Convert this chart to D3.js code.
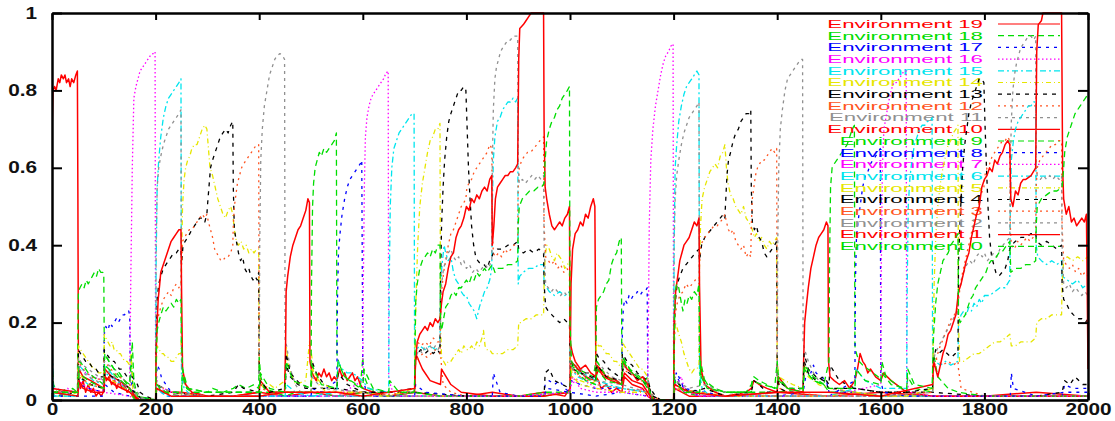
<!DOCTYPE html>
<html>
<head>
<meta charset="utf-8">
<script src="https://cdn.jsdelivr.net/npm/d3@7"></script>
<style>
body { margin: 0; background: #fff; }
svg { display: block; }
</style>
</head>
<body>
<div id="chart"></div>
<script>
// ---- data: [step, value] ----
const envNames = ["Environment 19","Environment 18","Environment 17","Environment 16","Environment 15",
  "Environment 14","Environment 13","Environment 12","Environment 11","Environment 10",
  "Environment 9","Environment 8","Environment 7","Environment 6","Environment 5",
  "Environment 4","Environment 3","Environment 2","Environment 1","Environment 0"];
const xTicks = [0,200,400,600,800,1000,1200,1400,1600,1800,2000];
const xTickLabels = ["0","200","400","600","800","1000","1200","1400","1600","1800","2000"];
const yTicks = [0,0.2,0.4,0.6,0.8,1];
const yTickLabels = ["0","0.2","0.4","0.6","0.8","1"];

const env19 = [[0,0.69],[2,0.8],[5,0.81],[8,0.8],[12,0.83],[15,0.82],[18,0.84],[22,0.83],[25,0.84],[28,0.82],[32,0.83],[35,0.81],[38,0.83],[42,0.82],[46,0.84],[49,0.85],[50,0.52],[51,0.06],[55,0.03],[60,0.05],[65,0.02],[70,0.04],[75,0.02],[80,0.03],[85,0.01],[90,0.02],[95,0.01],[99,0.02],[101,0.07],[105,0.05],[110,0.06],[115,0.04],[120,0.05],[125,0.03],[130,0.05],[135,0.03],[140,0.04],[145,0.02],[150,0.03],[155,0.02],[165,0],[200,0],[202,0.03],[215,0.02],[250,0.02],[300,0.01],[350,0.01],[400,0.02],[450,0.01],[500,0.02],[550,0.01],[600,0.02],[650,0.01],[700,0.02],[750,0.01],[800,0.01],[850,0.02],[900,0.01],[950,0.02],[990,0.01],[1000,0.03],[1002,0.3],[1005,0.39],[1010,0.43],[1015,0.44],[1020,0.46],[1025,0.45],[1030,0.48],[1035,0.47],[1040,0.5],[1045,0.52],[1048,0.5],[1050,0.06],[1055,0.05],[1060,0.03],[1070,0.04],[1080,0.02],[1090,0.03],[1100,0.02],[1105,0.06],[1120,0.04],[1140,0.03],[1150,0.01],[1160,0],[1200,0],[1202,0.03],[1230,0.01],[1300,0.01],[1400,0.02],[1500,0.01],[1600,0.02],[1700,0.01],[1800,0.01],[1900,0.02],[2000,0.01]];

const env18 = [[0,0.1],[3,0.04],[10,0.02],[20,0.03],[30,0.02],[40,0.03],[49,0.02],[50,0.2],[51,0.28],[54,0.29],[58,0.3],[62,0.29],[66,0.31],[70,0.3],[74,0.31],[78,0.32],[82,0.33],[86,0.32],[90,0.34],[94,0.33],[98,0.33],[100,0.32],[101,0.12],[105,0.11],[110,0.1],[115,0.09],[120,0.08],[125,0.07],[130,0.06],[135,0.06],[140,0.05],[145,0.04],[150,0.05],[153,0.1],[156,0.04],[162,0.01],[200,0],[202,0.05],[210,0.02],[250,0.01],[252,0.06],[260,0.03],[300,0.02],[350,0.02],[400,0.02],[450,0.02],[500,0.02],[550,0.01],[600,0.02],[650,0.01],[700,0.02],[750,0.01],[800,0.01],[850,0.01],[900,0.01],[950,0.01],[1000,0.02],[1002,0.1],[1015,0.08],[1030,0.07],[1045,0.06],[1050,0.1],[1051,0.24],[1055,0.26],[1060,0.27],[1065,0.28],[1070,0.3],[1075,0.31],[1080,0.35],[1085,0.37],[1090,0.38],[1095,0.41],[1099,0.42],[1100,0.12],[1105,0.1],[1115,0.08],[1125,0.07],[1135,0.06],[1145,0.05],[1150,0.06],[1153,0.02],[1160,0],[1200,0],[1202,0.06],[1220,0.02],[1250,0.01],[1252,0.07],[1270,0.03],[1300,0.02],[1400,0.02],[1450,0.03],[1452,0.08],[1470,0.05],[1490,0.04],[1500,0.02],[1550,0.02],[1600,0.01],[1700,0.01],[1800,0.01],[1900,0.01],[2000,0.01]];

const env17 = [[0,0.01],[50,0.01],[52,0.04],[70,0.03],[99,0.02],[100,0.1],[101,0.17],[104,0.19],[108,0.18],[112,0.2],[116,0.19],[120,0.2],[124,0.21],[128,0.2],[132,0.21],[136,0.22],[140,0.22],[144,0.23],[148,0.23],[150,0.22],[151,0.08],[155,0.03],[160,0.01],[200,0],[201,0.04],[203,0.09],[207,0.08],[211,0.06],[215,0.05],[220,0.04],[225,0.03],[230,0.02],[240,0.02],[250,0.01],[300,0.01],[400,0.01],[500,0.01],[600,0.01],[700,0.01],[800,0.01],[850,0.01],[852,0.07],[857,0.05],[865,0.02],[900,0.01],[950,0.01],[952,0.04],[960,0.05],[970,0.04],[980,0.05],[990,0.03],[1000,0.02],[1002,0.05],[1020,0.04],[1050,0.03],[1100,0.03],[1101,0.17],[1103,0.24],[1106,0.26],[1110,0.25],[1114,0.27],[1118,0.26],[1122,0.27],[1126,0.27],[1130,0.28],[1135,0.27],[1140,0.28],[1145,0.28],[1149,0.29],[1150,0.06],[1155,0.02],[1165,0],[1200,0],[1201,0.03],[1205,0.07],[1210,0.05],[1220,0.03],[1250,0.01],[1300,0.01],[1400,0.01],[1450,0.02],[1455,0.06],[1460,0.08],[1465,0.07],[1470,0.09],[1475,0.07],[1485,0.06],[1495,0.05],[1500,0.02],[1550,0.02],[1600,0.01],[1700,0.01],[1800,0.01],[1850,0.01],[1852,0.07],[1856,0.03],[1900,0.01],[1950,0.01],[1955,0.04],[1970,0.03],[2000,0.03]];

const env16 = [[0,0.04],[5,0.03],[10,0.03],[20,0.02],[30,0.03],[40,0.02],[50,0.02],[52,0.09],[65,0.07],[80,0.06],[100,0.05],[102,0.08],[120,0.05],[150,0.03],[152,0.3],[155,0.6],[158,0.78],[162,0.81],[166,0.83],[170,0.85],[175,0.86],[180,0.87],[185,0.88],[190,0.89],[195,0.895],[199,0.9],[200,0.1],[203,0.04],[210,0.03],[220,0.02],[230,0.02],[245,0.01],[300,0.01],[400,0.01],[500,0.01],[600,0.01],[700,0.01],[800,0.01],[900,0.01],[1000,0.02],[1002,0.04],[1020,0.06],[1025,0.07],[1030,0.05],[1050,0.03],[1100,0.02],[1150,0.03],[1151,0.15],[1153,0.45],[1156,0.62],[1160,0.7],[1165,0.76],[1170,0.8],[1175,0.84],[1180,0.87],[1185,0.89],[1190,0.9],[1195,0.915],[1199,0.92],[1200,0.1],[1203,0.04],[1210,0.05],[1215,0.06],[1220,0.03],[1250,0.01],[1300,0.01],[1400,0.01],[1500,0.01],[1600,0.01],[1700,0.01],[1800,0.01],[1900,0.01],[2000,0.01]];

const env15 = [[0,0.19],[2,0.05],[5,0.01],[50,0.01],[52,0.09],[65,0.07],[80,0.05],[100,0.04],[102,0.09],[120,0.06],[150,0.03],[160,0],[200,0],[201,0.35],[203,0.55],[206,0.62],[210,0.68],[215,0.73],[220,0.76],[225,0.78],[230,0.79],[235,0.8],[240,0.81],[245,0.82],[249,0.83],[250,0.06],[255,0.03],[270,0.01],[300,0.01],[400,0.01],[500,0.01],[600,0.01],[700,0.01],[800,0.01],[900,0.01],[1000,0.02],[1002,0.08],[1015,0.06],[1030,0.05],[1050,0.04],[1100,0.03],[1150,0.02],[1160,0],[1200,0],[1201,0.4],[1203,0.6],[1206,0.66],[1210,0.72],[1215,0.76],[1220,0.79],[1225,0.81],[1230,0.82],[1235,0.83],[1240,0.84],[1245,0.85],[1249,0.84],[1250,0.07],[1255,0.03],[1270,0.01],[1400,0.01],[1500,0.01],[1600,0.01],[1700,0.01],[1800,0.01],[1900,0.01],[2000,0.01]];

const env14 = [[0,0.02],[5,0.01],[30,0.01],[50,0.02],[51,0.14],[55,0.13],[60,0.12],[65,0.11],[70,0.1],[75,0.09],[80,0.08],[85,0.08],[90,0.07],[95,0.07],[100,0.06],[101,0.17],[104,0.16],[108,0.15],[112,0.14],[116,0.15],[120,0.13],[124,0.13],[128,0.12],[132,0.12],[136,0.11],[140,0.1],[145,0.1],[150,0.09],[153,0.12],[156,0.03],[162,0.01],[200,0],[201,0.08],[203,0.14],[207,0.13],[211,0.12],[215,0.12],[220,0.11],[225,0.11],[230,0.1],[235,0.1],[240,0.11],[245,0.12],[249,0.12],[250,0.35],[252,0.5],[255,0.57],[258,0.6],[262,0.62],[266,0.63],[270,0.65],[275,0.66],[280,0.66],[285,0.68],[290,0.7],[295,0.71],[299,0.7],[302,0.65],[305,0.6],[310,0.58],[315,0.55],[320,0.52],[325,0.5],[330,0.48],[335,0.47],[340,0.49],[345,0.5],[349,0.48],[352,0.44],[356,0.41],[360,0.4],[365,0.41],[370,0.39],[375,0.4],[380,0.38],[385,0.39],[390,0.38],[395,0.39],[399,0.39],[400,0.1],[403,0.04],[410,0.03],[420,0.04],[430,0.03],[440,0.04],[450,0.05],[452,0.14],[458,0.08],[470,0.04],[490,0.05],[497,0.15],[500,0.13],[505,0.07],[515,0.04],[530,0.02],[550,0.02],[600,0.01],[650,0.01],[700,0.01],[800,0.01],[900,0.01],[1000,0.02],[1002,0.06],[1020,0.05],[1040,0.04],[1050,0.05],[1051,0.15],[1055,0.14],[1060,0.14],[1065,0.13],[1070,0.12],[1075,0.12],[1080,0.11],[1085,0.1],[1090,0.1],[1095,0.09],[1100,0.09],[1101,0.15],[1105,0.14],[1110,0.13],[1115,0.12],[1120,0.11],[1125,0.1],[1130,0.09],[1135,0.08],[1140,0.08],[1145,0.07],[1150,0.06],[1155,0.02],[1165,0],[1200,0],[1201,0.12],[1203,0.2],[1206,0.19],[1210,0.17],[1215,0.15],[1220,0.12],[1225,0.1],[1230,0.08],[1235,0.07],[1240,0.08],[1245,0.08],[1249,0.09],[1250,0.35],[1252,0.45],[1255,0.52],[1260,0.55],[1265,0.57],[1270,0.59],[1275,0.6],[1280,0.61],[1285,0.6],[1290,0.63],[1295,0.64],[1299,0.66],[1302,0.6],[1305,0.56],[1310,0.53],[1315,0.52],[1320,0.5],[1325,0.49],[1330,0.48],[1335,0.5],[1340,0.47],[1345,0.46],[1349,0.45],[1352,0.44],[1356,0.42],[1360,0.43],[1365,0.41],[1370,0.42],[1375,0.4],[1380,0.39],[1385,0.41],[1390,0.4],[1395,0.41],[1399,0.42],[1400,0.1],[1403,0.06],[1415,0.05],[1430,0.04],[1450,0.03],[1452,0.09],[1460,0.06],[1480,0.04],[1500,0.03],[1550,0.02],[1600,0.01],[1700,0.01],[1800,0.01],[1900,0.01],[2000,0.01]];

const env13 = [[0,0.02],[5,0.01],[50,0.02],[51,0.13],[55,0.12],[60,0.11],[65,0.1],[70,0.1],[75,0.09],[80,0.08],[85,0.08],[90,0.07],[95,0.06],[100,0.06],[101,0.13],[105,0.12],[110,0.11],[115,0.1],[120,0.1],[125,0.09],[130,0.08],[135,0.08],[140,0.07],[145,0.06],[150,0.06],[155,0.06],[160,0.05],[165,0.04],[170,0.02],[180,0.01],[200,0],[201,0.15],[203,0.26],[206,0.3],[210,0.32],[215,0.34],[220,0.35],[225,0.36],[230,0.37],[235,0.38],[240,0.38],[245,0.39],[249,0.39],[250,0.35],[253,0.4],[257,0.41],[262,0.42],[266,0.43],[270,0.44],[275,0.45],[280,0.46],[285,0.47],[290,0.47],[295,0.46],[299,0.48],[300,0.5],[303,0.55],[306,0.6],[310,0.62],[315,0.64],[320,0.66],[325,0.68],[330,0.69],[335,0.7],[340,0.69],[345,0.71],[349,0.72],[350,0.55],[352,0.44],[356,0.41],[360,0.38],[364,0.36],[368,0.37],[372,0.34],[376,0.33],[380,0.34],[384,0.32],[388,0.31],[392,0.32],[396,0.31],[399,0.33],[400,0.06],[405,0.04],[420,0.02],[450,0.02],[452,0.09],[460,0.06],[475,0.04],[490,0.03],[500,0.03],[502,0.1],[510,0.07],[525,0.04],[545,0.03],[550,0.03],[600,0.02],[700,0.02],[800,0.01],[900,0.01],[950,0.01],[952,0.07],[960,0.08],[970,0.05],[985,0.04],[1000,0.03],[1001,0.1],[1005,0.09],[1015,0.08],[1025,0.07],[1035,0.07],[1045,0.06],[1050,0.06],[1051,0.12],[1055,0.11],[1065,0.1],[1075,0.08],[1085,0.07],[1095,0.06],[1100,0.06],[1101,0.12],[1110,0.1],[1120,0.09],[1130,0.07],[1140,0.06],[1150,0.05],[1155,0.03],[1165,0.01],[1175,0],[1200,0],[1201,0.15],[1203,0.25],[1207,0.3],[1212,0.32],[1218,0.34],[1224,0.35],[1230,0.36],[1236,0.37],[1242,0.38],[1249,0.39],[1250,0.36],[1254,0.4],[1260,0.42],[1266,0.43],[1272,0.44],[1278,0.45],[1284,0.46],[1290,0.47],[1296,0.48],[1299,0.47],[1300,0.5],[1303,0.58],[1306,0.62],[1310,0.64],[1315,0.67],[1320,0.69],[1325,0.7],[1330,0.72],[1335,0.73],[1340,0.74],[1345,0.74],[1349,0.75],[1350,0.55],[1352,0.46],[1356,0.44],[1360,0.45],[1365,0.42],[1370,0.41],[1375,0.38],[1380,0.37],[1385,0.38],[1390,0.39],[1395,0.4],[1399,0.41],[1400,0.06],[1405,0.03],[1420,0.02],[1450,0.02],[1452,0.1],[1460,0.07],[1475,0.05],[1490,0.06],[1500,0.04],[1502,0.09],[1520,0.05],[1550,0.03],[1600,0.02],[1700,0.02],[1800,0.01],[1900,0.01],[1950,0.02],[1955,0.05],[1965,0.04],[1975,0.06],[1990,0.04],[2000,0.04]];

const env12 = [[0,0.02],[50,0.02],[51,0.1],[60,0.08],[75,0.06],[100,0.05],[101,0.1],[120,0.07],[140,0.05],[150,0.04],[155,0.02],[165,0],[200,0],[201,0.12],[203,0.2],[206,0.22],[210,0.24],[215,0.26],[220,0.27],[225,0.28],[230,0.27],[235,0.29],[240,0.3],[245,0.29],[249,0.3],[250,0.35],[252,0.41],[256,0.42],[260,0.43],[265,0.44],[270,0.44],[275,0.45],[280,0.46],[285,0.47],[290,0.48],[295,0.47],[299,0.48],[302,0.46],[306,0.44],[310,0.42],[314,0.39],[318,0.38],[322,0.37],[326,0.36],[330,0.36],[335,0.37],[340,0.37],[345,0.38],[349,0.4],[350,0.45],[352,0.5],[355,0.53],[358,0.56],[362,0.58],[366,0.6],[370,0.61],[375,0.62],[380,0.63],[385,0.64],[390,0.65],[395,0.66],[399,0.66],[400,0.08],[405,0.03],[420,0.02],[450,0.02],[500,0.02],[550,0.02],[600,0.02],[650,0.01],[700,0.02],[702,0.14],[706,0.15],[712,0.14],[720,0.15],[728,0.14],[736,0.16],[744,0.15],[749,0.15],[750,0.12],[755,0.04],[770,0.02],[800,0.01],[900,0.01],[950,0.01],[1000,0.02],[1002,0.08],[1020,0.06],[1050,0.05],[1052,0.09],[1075,0.06],[1100,0.04],[1102,0.08],[1125,0.06],[1150,0.04],[1160,0.01],[1175,0],[1200,0],[1201,0.12],[1203,0.22],[1207,0.25],[1212,0.27],[1218,0.28],[1224,0.3],[1230,0.29],[1236,0.3],[1242,0.31],[1249,0.3],[1250,0.35],[1252,0.4],[1256,0.41],[1260,0.42],[1266,0.43],[1272,0.44],[1278,0.45],[1284,0.45],[1290,0.46],[1296,0.47],[1299,0.48],[1302,0.46],[1306,0.44],[1310,0.43],[1315,0.44],[1320,0.41],[1325,0.4],[1330,0.39],[1335,0.4],[1340,0.37],[1345,0.38],[1349,0.37],[1350,0.45],[1352,0.52],[1355,0.55],[1358,0.58],[1362,0.6],[1366,0.61],[1370,0.62],[1375,0.62],[1380,0.63],[1385,0.64],[1390,0.65],[1395,0.64],[1399,0.65],[1400,0.07],[1405,0.03],[1420,0.02],[1500,0.01],[1600,0.01],[1700,0.02],[1702,0.12],[1710,0.1],[1720,0.09],[1730,0.1],[1740,0.09],[1749,0.1],[1750,0.08],[1755,0.03],[1800,0.01],[1900,0.01],[2000,0.01]];

const env11 = [[0,0.03],[5,0.01],[50,0.02],[51,0.11],[55,0.1],[60,0.09],[70,0.08],[80,0.07],[90,0.06],[100,0.05],[101,0.1],[110,0.09],[120,0.08],[130,0.07],[140,0.05],[150,0.05],[155,0.04],[160,0.03],[170,0.01],[180,0],[200,0],[201,0.4],[203,0.55],[206,0.6],[210,0.63],[215,0.66],[220,0.68],[225,0.7],[230,0.71],[235,0.72],[240,0.73],[245,0.74],[249,0.75],[250,0.1],[255,0.04],[270,0.02],[300,0.01],[400,0.01],[401,0.4],[403,0.62],[406,0.7],[410,0.76],[415,0.8],[420,0.84],[425,0.86],[430,0.88],[435,0.89],[440,0.895],[445,0.89],[449,0.88],[450,0.15],[453,0.14],[460,0.08],[470,0.04],[480,0.02],[500,0.02],[550,0.01],[600,0.01],[700,0.01],[800,0.01],[900,0.01],[1000,0.02],[1001,0.1],[1010,0.09],[1020,0.08],[1030,0.07],[1040,0.07],[1050,0.06],[1051,0.1],[1065,0.08],[1080,0.06],[1100,0.05],[1101,0.09],[1120,0.07],[1140,0.06],[1150,0.05],[1155,0.02],[1165,0],[1200,0],[1201,0.4],[1203,0.52],[1206,0.58],[1210,0.62],[1215,0.66],[1220,0.69],[1225,0.71],[1230,0.73],[1235,0.74],[1240,0.75],[1245,0.76],[1249,0.77],[1250,0.1],[1255,0.05],[1270,0.03],[1300,0.01],[1400,0.01],[1401,0.4],[1403,0.6],[1406,0.7],[1410,0.75],[1415,0.8],[1420,0.83],[1425,0.84],[1430,0.85],[1435,0.86],[1440,0.87],[1445,0.88],[1449,0.88],[1450,0.15],[1453,0.13],[1460,0.1],[1470,0.07],[1480,0.05],[1500,0.03],[1550,0.02],[1600,0.01],[1700,0.01],[1800,0.01],[1900,0.01],[2000,0.01]];

const env10 = [[0,0.03],[50,0.02],[52,0.08],[60,0.06],[75,0.05],[100,0.03],[102,0.08],[115,0.06],[130,0.05],[150,0.03],[160,0.01],[170,0],[200,0],[201,0.12],[203,0.2],[205,0.26],[208,0.3],[210,0.33],[215,0.35],[220,0.37],[225,0.39],[230,0.41],[235,0.42],[240,0.43],[245,0.44],[249,0.44],[250,0.3],[252,0.08],[258,0.04],[270,0.02],[300,0.01],[350,0.01],[400,0.02],[402,0.05],[420,0.02],[449,0.02],[451,0.15],[452,0.28],[455,0.32],[460,0.37],[465,0.4],[470,0.42],[475,0.44],[480,0.45],[485,0.47],[490,0.49],[494,0.52],[497,0.51],[498,0.1],[502,0.07],[506,0.06],[510,0.05],[515,0.07],[520,0.06],[525,0.08],[530,0.06],[535,0.07],[540,0.05],[545,0.06],[550,0.05],[555,0.08],[560,0.06],[565,0.07],[570,0.05],[575,0.06],[580,0.07],[585,0.05],[590,0.06],[595,0.04],[600,0.03],[620,0.02],[650,0.01],[700,0.02],[702,0.12],[715,0.08],[730,0.05],[750,0.04],[752,0.08],[770,0.04],[790,0.02],[850,0.01],[950,0.01],[1000,0.02],[1002,0.1],[1015,0.08],[1030,0.06],[1050,0.05],[1052,0.09],[1070,0.06],[1090,0.05],[1100,0.04],[1102,0.1],[1110,0.08],[1120,0.07],[1130,0.05],[1140,0.06],[1150,0.04],[1155,0.01],[1165,0],[1200,0],[1201,0.2],[1204,0.28],[1208,0.32],[1212,0.36],[1216,0.38],[1220,0.4],[1225,0.41],[1230,0.42],[1235,0.44],[1240,0.46],[1245,0.45],[1249,0.47],[1250,0.3],[1253,0.08],[1260,0.04],[1280,0.02],[1300,0.01],[1340,0.02],[1350,0.03],[1355,0.05],[1365,0.04],[1380,0.03],[1400,0.02],[1402,0.06],[1420,0.03],[1450,0.02],[1451,0.1],[1453,0.2],[1456,0.24],[1460,0.29],[1465,0.34],[1470,0.37],[1475,0.4],[1480,0.42],[1485,0.43],[1490,0.44],[1495,0.46],[1498,0.45],[1499,0.1],[1502,0.06],[1510,0.05],[1520,0.04],[1530,0.05],[1540,0.03],[1550,0.05],[1555,0.08],[1560,0.12],[1565,0.1],[1570,0.09],[1575,0.07],[1580,0.08],[1590,0.06],[1600,0.05],[1605,0.07],[1620,0.05],[1640,0.03],[1650,0.02],[1700,0.01],[1800,0.01],[1900,0.01],[2000,0.01]];

const env9 = [[0,0.02],[50,0.01],[52,0.1],[60,0.09],[70,0.07],[80,0.06],[90,0.05],[100,0.04],[102,0.12],[110,0.1],[120,0.08],[130,0.07],[140,0.05],[150,0.04],[155,0.15],[158,0.05],[165,0.01],[200,0],[201,0.1],[203,0.18],[206,0.2],[210,0.22],[215,0.24],[220,0.23],[225,0.24],[230,0.25],[235,0.24],[240,0.26],[245,0.25],[249,0.26],[250,0.15],[253,0.06],[260,0.03],[270,0.02],[300,0.02],[310,0.03],[330,0.02],[350,0.03],[360,0.04],[375,0.03],[390,0.04],[399,0.03],[400,0.11],[403,0.06],[410,0.03],[430,0.02],[450,0.01],[470,0.02],[500,0.02],[501,0.3],[503,0.5],[505,0.56],[508,0.6],[512,0.62],[516,0.64],[520,0.63],[525,0.65],[530,0.64],[535,0.65],[540,0.66],[545,0.67],[549,0.69],[550,0.12],[553,0.1],[558,0.08],[565,0.06],[575,0.05],[585,0.04],[595,0.03],[600,0.11],[603,0.06],[612,0.03],[630,0.02],[650,0.01],[700,0.02],[750,0.01],[800,0.01],[900,0.01],[950,0.02],[1000,0.02],[1002,0.09],[1020,0.07],[1040,0.05],[1050,0.05],[1052,0.1],[1070,0.06],[1100,0.04],[1102,0.1],[1120,0.07],[1140,0.05],[1150,0.03],[1160,0],[1200,0],[1201,0.15],[1203,0.28],[1206,0.3],[1210,0.29],[1215,0.25],[1218,0.23],[1222,0.26],[1226,0.25],[1230,0.27],[1235,0.26],[1240,0.28],[1245,0.27],[1249,0.3],[1250,0.12],[1253,0.06],[1265,0.03],[1300,0.02],[1340,0.02],[1350,0.04],[1355,0.06],[1365,0.05],[1380,0.04],[1395,0.03],[1400,0.1],[1403,0.05],[1420,0.03],[1450,0.02],[1452,0.08],[1470,0.05],[1490,0.04],[1500,0.1],[1501,0.35],[1503,0.55],[1506,0.6],[1510,0.61],[1515,0.62],[1520,0.63],[1525,0.64],[1530,0.65],[1535,0.66],[1540,0.68],[1545,0.7],[1549,0.71],[1550,0.14],[1553,0.12],[1558,0.1],[1565,0.09],[1575,0.08],[1585,0.07],[1595,0.06],[1600,0.05],[1602,0.1],[1610,0.06],[1630,0.04],[1650,0.02],[1652,0.06],[1665,0.03],[1700,0.02],[1702,0.12],[1710,0.06],[1730,0.03],[1750,0.02],[1800,0.01],[1900,0.01],[2000,0.01]];

const env8 = [[0,0.01],[100,0.01],[102,0.04],[120,0.02],[150,0.01],[160,0],[200,0],[202,0.03],[220,0.01],[300,0.01],[400,0.01],[500,0.01],[502,0.03],[520,0.02],[550,0.05],[551,0.25],[553,0.38],[556,0.43],[560,0.48],[565,0.52],[570,0.55],[575,0.57],[580,0.58],[585,0.59],[590,0.6],[595,0.61],[598,0.62],[600,0.06],[605,0.03],[620,0.01],[700,0.01],[702,0.04],[720,0.02],[800,0.01],[900,0.01],[950,0.01],[955,0.03],[1000,0.02],[1050,0.01],[1100,0.02],[1150,0.01],[1160,0],[1200,0],[1202,0.05],[1210,0.06],[1220,0.03],[1300,0.01],[1400,0.01],[1500,0.01],[1550,0.05],[1551,0.3],[1553,0.42],[1556,0.46],[1560,0.5],[1565,0.55],[1570,0.58],[1575,0.59],[1580,0.61],[1585,0.62],[1590,0.63],[1595,0.64],[1599,0.65],[1600,0.05],[1605,0.02],[1650,0.01],[1700,0.01],[1800,0.01],[1900,0.01],[1955,0.02],[2000,0.02]];

const env7 = [[0,0.02],[50,0.02],[52,0.05],[70,0.03],[100,0.02],[150,0.01],[160,0],[200,0],[202,0.04],[230,0.02],[300,0.01],[400,0.01],[500,0.01],[550,0.01],[600,0.05],[601,0.3],[603,0.55],[605,0.68],[608,0.73],[612,0.76],[616,0.78],[620,0.79],[625,0.8],[630,0.81],[635,0.82],[640,0.83],[645,0.845],[649,0.85],[650,0.06],[655,0.03],[670,0.01],[700,0.01],[800,0.01],[900,0.01],[1000,0.02],[1005,0.06],[1010,0.05],[1020,0.03],[1050,0.02],[1100,0.02],[1150,0.01],[1160,0],[1200,0],[1202,0.03],[1250,0.01],[1300,0.01],[1400,0.01],[1500,0.01],[1600,0.04],[1601,0.35],[1603,0.6],[1606,0.7],[1610,0.73],[1615,0.77],[1620,0.8],[1625,0.82],[1630,0.82],[1635,0.83],[1640,0.84],[1645,0.85],[1649,0.85],[1650,0.05],[1655,0.02],[1700,0.01],[1800,0.01],[1900,0.01],[2000,0.01]];

const env6 = [[0,0.02],[5,0.01],[50,0.01],[52,0.06],[70,0.04],[100,0.03],[102,0.07],[125,0.05],[150,0.02],[160,0],[200,0],[202,0.03],[220,0.01],[300,0.01],[400,0.01],[450,0.01],[452,0.04],[470,0.02],[500,0.01],[550,0.02],[552,0.1],[560,0.08],[570,0.07],[580,0.07],[590,0.06],[600,0.05],[610,0.03],[650,0.02],[651,0.3],[653,0.5],[656,0.6],[660,0.65],[665,0.67],[670,0.69],[675,0.7],[680,0.71],[685,0.72],[690,0.73],[695,0.74],[699,0.74],[700,0.1],[703,0.13],[710,0.14],[720,0.13],[730,0.14],[740,0.13],[749,0.14],[750,0.3],[753,0.35],[757,0.4],[760,0.38],[765,0.36],[770,0.37],[775,0.33],[780,0.31],[785,0.3],[790,0.28],[795,0.27],[800,0.27],[805,0.25],[810,0.24],[815,0.23],[820,0.21],[825,0.24],[830,0.26],[835,0.28],[840,0.29],[845,0.31],[849,0.34],[850,0.5],[852,0.62],[855,0.68],[860,0.72],[865,0.73],[870,0.75],[875,0.76],[880,0.77],[885,0.77],[890,0.78],[895,0.77],[899,0.78],[900,0.3],[903,0.32],[910,0.33],[920,0.34],[930,0.34],[940,0.35],[949,0.35],[950,0.3],[955,0.29],[960,0.28],[970,0.27],[980,0.28],[990,0.27],[999,0.28],[1000,0.1],[1005,0.08],[1020,0.07],[1040,0.06],[1050,0.05],[1100,0.03],[1150,0.02],[1160,0],[1200,0],[1202,0.04],[1230,0.02],[1300,0.01],[1400,0.01],[1500,0.01],[1550,0.03],[1552,0.08],[1570,0.05],[1600,0.03],[1650,0.03],[1651,0.3],[1653,0.5],[1656,0.57],[1660,0.62],[1665,0.66],[1670,0.68],[1675,0.7],[1680,0.71],[1685,0.71],[1690,0.72],[1695,0.72],[1699,0.73],[1700,0.1],[1705,0.1],[1715,0.09],[1725,0.1],[1735,0.09],[1749,0.1],[1750,0.2],[1755,0.22],[1760,0.23],[1765,0.22],[1770,0.24],[1775,0.23],[1780,0.25],[1785,0.24],[1790,0.26],[1795,0.25],[1800,0.27],[1810,0.27],[1820,0.28],[1830,0.29],[1840,0.29],[1849,0.31],[1850,0.5],[1852,0.62],[1856,0.67],[1860,0.7],[1865,0.72],[1870,0.73],[1875,0.74],[1880,0.75],[1885,0.76],[1890,0.76],[1895,0.77],[1899,0.77],[1900,0.4],[1903,0.37],[1910,0.36],[1920,0.35],[1930,0.36],[1940,0.35],[1949,0.36],[1950,0.32],[1960,0.31],[1970,0.3],[1980,0.31],[1990,0.29],[2000,0.3]];

const env5 = [[0,0.02],[50,0.02],[52,0.07],[70,0.04],[100,0.03],[102,0.06],[130,0.04],[150,0.02],[160,0],[200,0],[202,0.03],[220,0.02],[300,0.01],[400,0.01],[450,0.02],[500,0.02],[502,0.08],[515,0.05],[550,0.02],[600,0.02],[650,0.01],[700,0.03],[701,0.15],[703,0.28],[706,0.4],[710,0.5],[715,0.56],[720,0.6],[725,0.64],[730,0.67],[735,0.68],[740,0.7],[745,0.7],[749,0.715],[750,0.2],[752,0.11],[756,0.1],[760,0.09],[765,0.1],[770,0.1],[775,0.11],[780,0.12],[785,0.13],[790,0.12],[795,0.14],[800,0.13],[805,0.13],[810,0.14],[815,0.13],[820,0.15],[825,0.14],[830,0.16],[833,0.18],[836,0.14],[840,0.13],[845,0.13],[850,0.12],[860,0.12],[870,0.12],[880,0.13],[890,0.13],[899,0.14],[901,0.2],[905,0.2],[915,0.21],[925,0.21],[935,0.22],[945,0.22],[949,0.22],[950,0.3],[952,0.37],[955,0.4],[960,0.39],[965,0.37],[970,0.36],[975,0.38],[980,0.37],[985,0.36],[990,0.34],[995,0.35],[999,0.36],[1000,0.1],[1005,0.06],[1020,0.04],[1050,0.03],[1100,0.02],[1150,0.02],[1160,0],[1200,0],[1202,0.03],[1250,0.02],[1300,0.01],[1400,0.01],[1500,0.01],[1550,0.02],[1600,0.01],[1650,0.01],[1700,0.03],[1701,0.15],[1703,0.3],[1706,0.42],[1710,0.5],[1715,0.56],[1720,0.6],[1725,0.63],[1730,0.66],[1735,0.67],[1740,0.69],[1745,0.7],[1749,0.71],[1750,0.2],[1752,0.1],[1760,0.1],[1770,0.11],[1780,0.12],[1790,0.12],[1800,0.13],[1810,0.14],[1820,0.15],[1830,0.15],[1840,0.16],[1849,0.17],[1852,0.14],[1860,0.14],[1870,0.15],[1880,0.15],[1890,0.15],[1899,0.16],[1901,0.2],[1910,0.21],[1920,0.21],[1930,0.22],[1940,0.22],[1949,0.22],[1950,0.3],[1953,0.36],[1960,0.37],[1970,0.36],[1980,0.37],[1990,0.36],[2000,0.37]];

const env4 = [[0,0.02],[50,0.02],[52,0.06],[75,0.04],[100,0.03],[102,0.07],[130,0.05],[150,0.03],[160,0.02],[175,0],[200,0],[202,0.04],[230,0.02],[300,0.01],[350,0.02],[360,0.04],[370,0.03],[400,0.02],[402,0.05],[420,0.02],[450,0.03],[452,0.12],[460,0.07],[480,0.04],[500,0.03],[550,0.03],[552,0.07],[570,0.04],[600,0.02],[650,0.02],[700,0.03],[701,0.1],[705,0.12],[712,0.13],[720,0.12],[728,0.13],[736,0.12],[744,0.13],[749,0.12],[750,0.3],[752,0.45],[755,0.55],[758,0.62],[762,0.68],[766,0.72],[770,0.74],[775,0.76],[780,0.78],[785,0.8],[790,0.8],[795,0.81],[799,0.8],[801,0.72],[804,0.6],[807,0.52],[810,0.45],[814,0.4],[818,0.37],[822,0.36],[828,0.35],[834,0.35],[840,0.34],[845,0.36],[849,0.37],[852,0.38],[860,0.39],[870,0.39],[880,0.4],[890,0.4],[899,0.41],[901,0.39],[910,0.38],[920,0.39],[930,0.38],[940,0.39],[949,0.38],[950,0.3],[953,0.24],[958,0.23],[965,0.22],[972,0.21],[980,0.2],[988,0.21],[995,0.2],[999,0.2],[1000,0.1],[1005,0.08],[1020,0.07],[1040,0.06],[1050,0.05],[1052,0.09],[1070,0.06],[1100,0.05],[1102,0.08],[1125,0.06],[1150,0.04],[1160,0.01],[1175,0],[1200,0],[1202,0.05],[1230,0.02],[1260,0.03],[1300,0.01],[1350,0.02],[1355,0.05],[1365,0.04],[1380,0.02],[1400,0.02],[1402,0.05],[1420,0.03],[1450,0.03],[1452,0.12],[1460,0.08],[1475,0.06],[1490,0.05],[1500,0.03],[1550,0.03],[1600,0.02],[1650,0.02],[1700,0.03],[1701,0.1],[1706,0.13],[1712,0.12],[1720,0.13],[1728,0.12],[1736,0.11],[1744,0.12],[1749,0.12],[1750,0.35],[1752,0.43],[1755,0.52],[1758,0.6],[1762,0.66],[1766,0.7],[1770,0.74],[1775,0.77],[1780,0.79],[1785,0.81],[1790,0.83],[1795,0.83],[1799,0.82],[1801,0.72],[1804,0.6],[1807,0.5],[1810,0.42],[1814,0.37],[1818,0.35],[1822,0.33],[1828,0.32],[1834,0.33],[1840,0.34],[1845,0.36],[1849,0.39],[1852,0.4],[1860,0.41],[1870,0.42],[1880,0.42],[1890,0.43],[1899,0.43],[1901,0.41],[1910,0.4],[1920,0.41],[1930,0.4],[1940,0.39],[1949,0.4],[1950,0.3],[1953,0.26],[1958,0.25],[1965,0.23],[1972,0.22],[1980,0.21],[1988,0.21],[1995,0.2],[2000,0.21]];

const env3 = [[0,0.02],[50,0.02],[52,0.06],[75,0.04],[100,0.03],[102,0.07],[130,0.04],[150,0.02],[160,0],[200,0],[202,0.04],[230,0.02],[300,0.01],[400,0.01],[450,0.02],[500,0.02],[550,0.02],[600,0.01],[700,0.02],[702,0.1],[708,0.11],[716,0.12],[724,0.11],[732,0.12],[740,0.13],[749,0.12],[750,0.2],[752,0.28],[756,0.33],[760,0.36],[765,0.4],[770,0.43],[775,0.44],[780,0.46],[785,0.48],[790,0.5],[795,0.51],[799,0.52],[801,0.55],[805,0.56],[810,0.57],[815,0.59],[820,0.6],[825,0.61],[830,0.62],[835,0.63],[840,0.64],[845,0.66],[849,0.65],[850,0.45],[852,0.38],[856,0.37],[862,0.38],[868,0.37],[874,0.39],[880,0.38],[886,0.39],[892,0.4],[899,0.41],[900,0.55],[902,0.6],[907,0.62],[912,0.63],[918,0.64],[924,0.64],[930,0.65],[936,0.66],[942,0.67],[949,0.68],[950,0.45],[953,0.37],[958,0.36],[964,0.35],[970,0.36],[976,0.34],[982,0.35],[988,0.33],[994,0.34],[999,0.33],[1000,0.1],[1005,0.08],[1020,0.06],[1050,0.04],[1100,0.03],[1150,0.02],[1160,0],[1200,0],[1202,0.03],[1250,0.02],[1300,0.01],[1400,0.01],[1500,0.01],[1600,0.01],[1700,0.02],[1702,0.08],[1706,0.1],[1712,0.13],[1718,0.15],[1724,0.17],[1730,0.19],[1736,0.21],[1742,0.22],[1749,0.24],[1750,0.26],[1754,0.3],[1758,0.33],[1763,0.36],[1768,0.39],[1773,0.42],[1778,0.45],[1783,0.48],[1788,0.5],[1793,0.53],[1799,0.55],[1801,0.58],[1805,0.6],[1810,0.61],[1815,0.63],[1820,0.64],[1825,0.65],[1830,0.66],[1835,0.67],[1840,0.67],[1845,0.68],[1849,0.67],[1850,0.45],[1852,0.4],[1858,0.39],[1864,0.41],[1870,0.4],[1876,0.41],[1882,0.42],[1888,0.41],[1894,0.42],[1899,0.43],[1900,0.55],[1902,0.6],[1907,0.62],[1913,0.63],[1919,0.64],[1925,0.65],[1931,0.66],[1937,0.66],[1943,0.67],[1949,0.67],[1950,0.45],[1953,0.36],[1958,0.35],[1964,0.34],[1970,0.35],[1976,0.33],[1982,0.34],[1988,0.32],[1994,0.33],[2000,0.32]];

const env2 = [[0,0.02],[50,0.02],[52,0.08],[70,0.06],[100,0.04],[102,0.08],[130,0.05],[150,0.03],[165,0.01],[180,0],[200,0],[202,0.04],[230,0.02],[300,0.01],[400,0.01],[450,0.02],[500,0.02],[502,0.06],[520,0.03],[600,0.02],[650,0.01],[700,0.02],[701,0.1],[705,0.12],[710,0.13],[715,0.12],[720,0.14],[725,0.13],[730,0.14],[735,0.13],[740,0.14],[745,0.13],[749,0.14],[750,0.2],[752,0.3],[756,0.34],[760,0.36],[765,0.38],[770,0.39],[775,0.37],[780,0.36],[785,0.37],[790,0.35],[795,0.36],[800,0.34],[806,0.35],[812,0.33],[818,0.34],[824,0.33],[830,0.34],[836,0.35],[842,0.34],[849,0.36],[850,0.6],[852,0.75],[855,0.83],[858,0.86],[862,0.88],[866,0.9],[870,0.91],[875,0.92],[880,0.93],[885,0.93],[890,0.94],[895,0.94],[899,0.94],[900,0.6],[902,0.56],[908,0.57],[914,0.56],[920,0.57],[926,0.58],[932,0.57],[938,0.58],[944,0.57],[949,0.58],[950,0.4],[953,0.3],[958,0.29],[964,0.28],[970,0.29],[976,0.28],[982,0.27],[988,0.28],[994,0.27],[999,0.28],[1000,0.1],[1005,0.08],[1020,0.07],[1050,0.05],[1100,0.04],[1150,0.02],[1165,0],[1200,0],[1202,0.05],[1230,0.03],[1260,0.04],[1300,0.02],[1400,0.01],[1500,0.01],[1600,0.01],[1700,0.02],[1701,0.1],[1705,0.12],[1712,0.14],[1720,0.16],[1728,0.18],[1736,0.2],[1744,0.22],[1749,0.24],[1750,0.28],[1754,0.3],[1760,0.33],[1766,0.35],[1772,0.36],[1778,0.35],[1784,0.37],[1790,0.38],[1796,0.37],[1800,0.38],[1806,0.36],[1812,0.37],[1818,0.38],[1824,0.37],[1830,0.39],[1836,0.4],[1842,0.41],[1849,0.42],[1850,0.6],[1852,0.72],[1855,0.8],[1858,0.84],[1862,0.87],[1866,0.89],[1870,0.91],[1875,0.92],[1880,0.93],[1885,0.94],[1890,0.94],[1895,0.93],[1899,0.94],[1900,0.6],[1902,0.58],[1908,0.57],[1914,0.58],[1920,0.57],[1926,0.58],[1932,0.57],[1938,0.58],[1944,0.57],[1949,0.58],[1950,0.4],[1953,0.3],[1958,0.29],[1964,0.3],[1970,0.28],[1976,0.29],[1982,0.28],[1988,0.27],[1994,0.28],[2000,0.27]];

const env1 = [[0,0.02],[50,0.01],[52,0.05],[60,0.03],[80,0.02],[100,0.02],[102,0.06],[120,0.04],[150,0.02],[165,0],[200,0],[202,0.03],[230,0.01],[300,0.01],[400,0.01],[450,0.02],[500,0.02],[550,0.02],[600,0.01],[650,0.02],[700,0.03],[702,0.1],[705,0.15],[710,0.17],[715,0.18],[720,0.19],[725,0.18],[730,0.2],[735,0.19],[740,0.21],[745,0.2],[749,0.21],[752,0.25],[755,0.28],[760,0.3],[765,0.34],[770,0.37],[775,0.38],[780,0.42],[785,0.44],[790,0.45],[795,0.47],[800,0.5],[805,0.49],[810,0.52],[815,0.51],[820,0.53],[825,0.52],[830,0.54],[835,0.55],[840,0.54],[845,0.57],[849,0.58],[850,0.4],[853,0.45],[856,0.52],[860,0.55],[865,0.56],[870,0.57],[875,0.58],[880,0.58],[885,0.59],[890,0.59],[895,0.6],[899,0.61],[901,0.88],[903,0.96],[910,0.97],[915,0.98],[920,0.99],[925,1],[949,1],[950,0.7],[952,0.55],[955,0.52],[960,0.48],[965,0.45],[970,0.44],[975,0.45],[980,0.46],[985,0.45],[990,0.47],[995,0.48],[999,0.5],[1000,0.15],[1005,0.12],[1010,0.1],[1020,0.08],[1030,0.09],[1040,0.07],[1050,0.06],[1055,0.08],[1065,0.06],[1080,0.05],[1100,0.04],[1105,0.07],[1120,0.05],[1140,0.04],[1150,0.02],[1160,0],[1200,0],[1202,0.04],[1230,0.02],[1300,0.01],[1400,0.02],[1450,0.02],[1500,0.02],[1600,0.01],[1700,0.04],[1702,0.1],[1706,0.08],[1710,0.06],[1715,0.09],[1720,0.12],[1725,0.14],[1730,0.17],[1735,0.18],[1740,0.2],[1745,0.22],[1750,0.28],[1755,0.3],[1760,0.33],[1765,0.36],[1770,0.38],[1775,0.42],[1780,0.45],[1785,0.48],[1790,0.5],[1795,0.55],[1800,0.57],[1805,0.58],[1810,0.6],[1815,0.59],[1820,0.62],[1825,0.61],[1830,0.63],[1835,0.64],[1840,0.66],[1845,0.67],[1849,0.66],[1851,0.52],[1855,0.5],[1860,0.54],[1865,0.53],[1870,0.56],[1875,0.57],[1880,0.57],[1890,0.58],[1899,0.6],[1901,0.9],[1904,0.97],[1910,0.98],[1913,1],[1949,1],[1951,0.6],[1953,0.52],[1958,0.48],[1963,0.5],[1968,0.46],[1973,0.47],[1978,0.45],[1983,0.46],[1988,0.47],[1993,0.46],[1997,0.48],[2000,0.08]];

const env0 = [[0,0.02],[50,0.02],[52,0.07],[70,0.05],[100,0.03],[102,0.09],[125,0.06],[150,0.03],[160,0],[200,0],[202,0.04],[220,0.02],[250,0.02],[252,0.08],[262,0.03],[300,0.02],[400,0.02],[402,0.07],[420,0.03],[450,0.02],[452,0.1],[465,0.05],[500,0.03],[502,0.09],[520,0.04],[550,0.03],[552,0.1],[565,0.06],[600,0.03],[602,0.08],[620,0.03],[650,0.02],[652,0.05],[670,0.02],[699,0.02],[700,0.05],[702,0.25],[705,0.3],[710,0.34],[715,0.36],[720,0.37],[725,0.38],[730,0.37],[735,0.39],[740,0.38],[745,0.4],[749,0.4],[750,0.2],[752,0.18],[756,0.21],[760,0.24],[765,0.25],[770,0.27],[775,0.28],[780,0.27],[785,0.29],[790,0.29],[795,0.3],[800,0.31],[805,0.3],[810,0.32],[815,0.31],[820,0.33],[825,0.32],[830,0.33],[835,0.34],[840,0.33],[845,0.34],[850,0.35],[855,0.33],[860,0.34],[870,0.34],[880,0.35],[890,0.35],[899,0.36],[900,0.45],[902,0.5],[908,0.52],[915,0.53],[922,0.54],[930,0.54],[938,0.55],[945,0.55],[950,0.56],[952,0.62],[955,0.67],[960,0.7],[965,0.72],[970,0.73],[975,0.75],[980,0.76],[985,0.78],[990,0.79],[995,0.8],[999,0.81],[1000,0.2],[1003,0.1],[1015,0.07],[1030,0.05],[1050,0.04],[1052,0.08],[1070,0.05],[1100,0.04],[1102,0.11],[1120,0.07],[1150,0.04],[1160,0],[1200,0],[1202,0.05],[1220,0.02],[1250,0.02],[1252,0.1],[1260,0.05],[1280,0.03],[1300,0.02],[1350,0.02],[1352,0.05],[1370,0.04],[1400,0.03],[1402,0.06],[1420,0.03],[1450,0.03],[1452,0.09],[1470,0.06],[1500,0.03],[1550,0.03],[1552,0.08],[1570,0.05],[1600,0.04],[1602,0.07],[1620,0.04],[1650,0.03],[1652,0.08],[1665,0.04],[1699,0.03],[1700,0.08],[1702,0.17],[1706,0.25],[1710,0.3],[1715,0.33],[1720,0.36],[1725,0.37],[1730,0.38],[1735,0.4],[1740,0.41],[1745,0.42],[1749,0.43],[1750,0.22],[1753,0.2],[1758,0.21],[1763,0.22],[1768,0.24],[1773,0.26],[1778,0.27],[1783,0.29],[1788,0.3],[1793,0.31],[1798,0.32],[1803,0.33],[1808,0.35],[1813,0.36],[1818,0.36],[1823,0.37],[1828,0.38],[1833,0.38],[1838,0.39],[1843,0.4],[1849,0.41],[1851,0.33],[1860,0.34],[1870,0.34],[1880,0.35],[1890,0.35],[1899,0.36],[1900,0.45],[1902,0.5],[1910,0.52],[1920,0.53],[1930,0.54],[1940,0.54],[1950,0.55],[1952,0.58],[1955,0.64],[1960,0.68],[1965,0.7],[1970,0.72],[1975,0.74],[1980,0.75],[1985,0.76],[1990,0.77],[1995,0.78],[2000,0.79]];

const series = [env19, env18, env17, env16, env15, env14, env13, env12, env11, env10,
                env9, env8, env7, env6, env5, env4, env3, env2, env1, env0];

// ---- styles (gnuplot line types cycle every 9) ----
const lineColors = ["#ff0000","#00dd00","#0000ff","#ff00ff","#00e5ee","#e6e600","#000000","#ff5522","#909090"];
const lineDashes = [null,"6,4","3,5","1.5,2.5","6,3,2,3","5,3,1,3","4,5","2,4","3,4"];

const W = 1115, H = 421;
const margin = {left: 52, right: 27, top: 13, bottom: 21};
const fontFam = "'Liberation Sans', Arial, sans-serif";

const svg = d3.select("#chart").append("svg")
    .attr("width", W).attr("height", H)
    .style("background", "#fff");

const x = d3.scaleLinear().domain([0, 2000]).range([margin.left, W - margin.right]);
const y = d3.scaleLinear().domain([0, 1]).range([H - margin.bottom, margin.top]);

svg.append("defs").append("clipPath").attr("id", "plotclip")
  .append("rect")
    .attr("x", margin.left).attr("y", margin.top - 1)
    .attr("width", W - margin.left - margin.right)
    .attr("height", H - margin.top - margin.bottom + 1);

const line = d3.line().x(d => x(d[0])).y(d => y(d[1]));

// key + curve per environment, in plot order (19 first, 0 last)
const keyRight = 983, keyLineX0 = 998, keyLineX1 = 1060, keyTop = 24, keyStep = 11.7;
const layers = svg.append("g");

series.forEach((data, i) => {
  const k = i % 9;
  const g = layers.append("g");
  const ky = keyTop + i * keyStep;

  const txt = g.append("text")
      .attr("x", keyRight).attr("y", ky + 3.8)
      .attr("text-anchor", "end")
      .style("font-family", fontFam)
      .style("font-size", "11px")
      .attr("fill", lineColors[k])
      .text(envNames[i]);
  const natural = txt.node().getComputedTextLength();
  txt.attr("textLength", natural * 2.02).attr("lengthAdjust", "spacingAndGlyphs");

  g.append("line")
      .attr("x1", keyLineX0).attr("x2", keyLineX1)
      .attr("y1", ky).attr("y2", ky)
      .attr("stroke", lineColors[k]).attr("stroke-width", 1.2)
      .attr("stroke-dasharray", lineDashes[k]);

  g.append("path")
      .datum(data)
      .attr("clip-path", "url(#plotclip)")
      .attr("fill", "none")
      .attr("stroke", lineColors[k])
      .attr("stroke-width", k === 0 ? 1.5 : 1.3)
      .attr("stroke-linejoin", "round")
      .attr("stroke-dasharray", lineDashes[k])
      .attr("d", line);
});

// ---- axes / frame ----
const xAxis = svg.append("g")
    .attr("transform", `translate(0,${H - margin.bottom})`)
    .call(d3.axisBottom(x).tickValues(xTicks).tickFormat((d, i) => xTickLabels[i])
      .tickSizeInner(-7).tickSizeOuter(0).tickPadding(4));
const xAxisTop = svg.append("g")
    .attr("transform", `translate(0,${margin.top})`)
    .call(d3.axisTop(x).tickValues(xTicks).tickFormat("").tickSizeInner(-7).tickSizeOuter(0));
const yAxis = svg.append("g")
    .attr("transform", `translate(${margin.left},0)`)
    .call(d3.axisLeft(y).tickValues(yTicks).tickFormat((d, i) => yTickLabels[i])
      .tickSizeInner(-10).tickSizeOuter(0));
const yAxisRight = svg.append("g")
    .attr("transform", `translate(${W - margin.right},0)`)
    .call(d3.axisRight(y).tickValues(yTicks).tickFormat("").tickSizeInner(-10).tickSizeOuter(0));

[xAxis, xAxisTop, yAxis, yAxisRight].forEach(a => {
  a.select(".domain").attr("stroke", "#000").attr("stroke-width", 2.5);
  a.selectAll(".tick line").attr("stroke", "#000").attr("stroke-width", 2);
});

xAxis.selectAll("text")
    .style("font-family", fontFam).style("font-size", "16px").style("font-weight", "bold")
    .attr("fill", "#111")
    .attr("transform", "scale(1.3,1)");
yAxis.selectAll("text")
    .style("font-family", fontFam).style("font-size", "16px").style("font-weight", "bold")
    .attr("fill", "#111")
    .attr("x", -11.5)
    .attr("transform", "scale(1.3,1)");
</script>
</body>
</html>
